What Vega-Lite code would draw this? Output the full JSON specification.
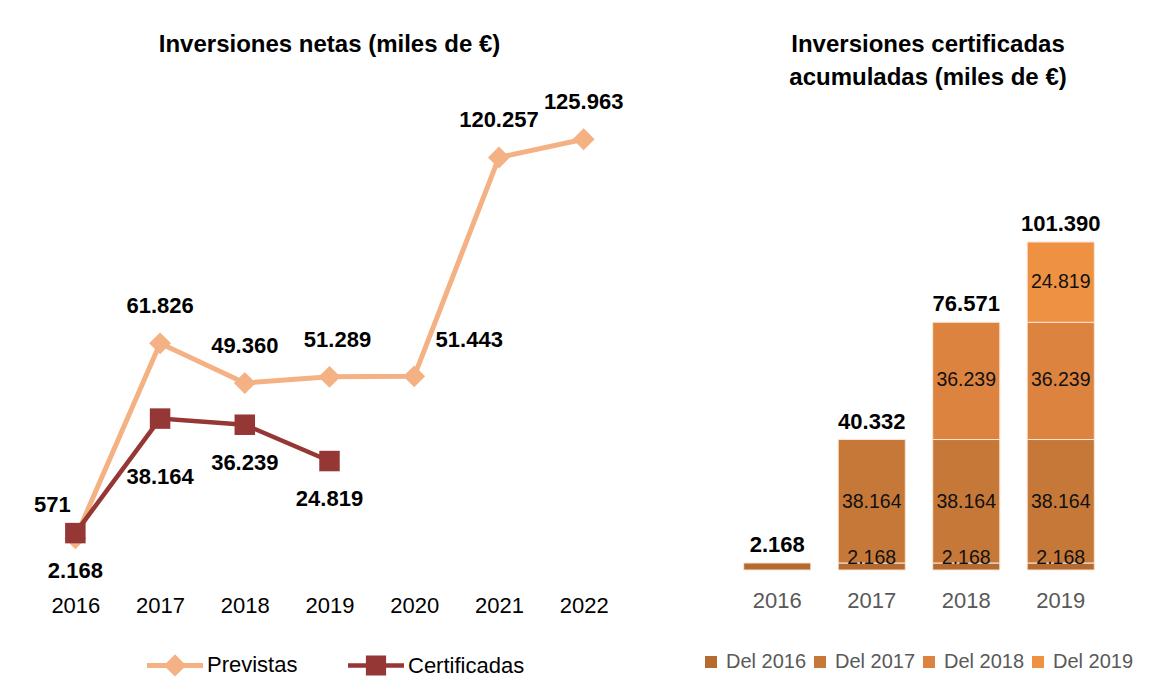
{
  "$schema": "https://vega.github.io/schema/vega-lite/v6.json",
  "padding": {"left": 33, "top": 33, "right": 5, "bottom": 5},
  "background": "white",
  "spacing": 75,
  "config": {
    "locale": {"number": {"decimal": ",", "thousands": ".", "grouping": [3], "currency": ["", " €"]}},
    "font": "Liberation Sans",
    "view": {"stroke": null},
    "title": {"font": "Liberation Sans", "fontSize": 24, "fontWeight": "bold", "color": "#000000"},
    "text": {"font": "Liberation Sans"}
  },
  "datasets": {
    "netas": [
      {"year": 2016, "series": "Previstas", "value": 571},
      {"year": 2017, "series": "Previstas", "value": 61826},
      {"year": 2018, "series": "Previstas", "value": 49360},
      {"year": 2019, "series": "Previstas", "value": 51289},
      {"year": 2020, "series": "Previstas", "value": 51443},
      {"year": 2021, "series": "Previstas", "value": 120257},
      {"year": 2022, "series": "Previstas", "value": 125963},
      {"year": 2016, "series": "Certificadas", "value": 2168},
      {"year": 2017, "series": "Certificadas", "value": 38164},
      {"year": 2018, "series": "Certificadas", "value": 36239},
      {"year": 2019, "series": "Certificadas", "value": 24819}
    ],
    "acum": [
      {"year": 2016, "segment": "Del 2016", "value": 2168},
      {"year": 2017, "segment": "Del 2016", "value": 2168},
      {"year": 2017, "segment": "Del 2017", "value": 38164},
      {"year": 2018, "segment": "Del 2016", "value": 2168},
      {"year": 2018, "segment": "Del 2017", "value": 38164},
      {"year": 2018, "segment": "Del 2018", "value": 36239},
      {"year": 2019, "segment": "Del 2016", "value": 2168},
      {"year": 2019, "segment": "Del 2017", "value": 38164},
      {"year": 2019, "segment": "Del 2018", "value": 36239},
      {"year": 2019, "segment": "Del 2019", "value": 24819}
    ]
  },
  "hconcat": [
    {
      "width": 593,
      "height": 440,
      "title": {"text": "Inversiones netas (miles de €)", "offset": 34},
      "data": {"name": "netas"},
      "encoding": {
        "x": {"field": "year", "type": "ordinal", "scale": {"type": "point", "padding": 0.5},
          "axis": {"title": null, "domain": false, "ticks": false, "labelFontSize": 22, "labelColor": "#000000", "labelPadding": 55, "labelAngle": 0, "labelFont": "Liberation Sans"}},
        "y": {"field": "value", "type": "quantitative", "scale": {"domain": [0, 138320], "nice": false, "zero": true}, "axis": null}
      },
      "layer": [
        {
          "transform": [{"filter": "datum.series == 'Previstas'"}],
          "mark": {"type": "line", "strokeWidth": 5},
          "encoding": {
            "color": {"field": "series", "type": "nominal",
              "scale": {"domain": ["Previstas", "Certificadas"], "range": ["#F4B183", "#953735"]},
              "legend": {
                "orient": "none", "legendX": 114, "legendY": 537, "direction": "horizontal", "title": null,
                "labelFontSize": 22, "labelFont": "Liberation Sans", "labelColor": "#000000",
                "symbolSize": 3136, "columnPadding": 50, "labelOffset": 4,
                "encode": {"symbols": {"update": {
                  "shape": {"signal": "datum.value == 'Previstas' ? 'M-1,-0.09L1,-0.09L1,0.09L-1,0.09Z M0,-0.4L0.4,0L0,0.4L-0.4,0Z' : 'M-1,-0.08L1,-0.08L1,0.08L-1,0.08Z M-0.36,-0.36L0.36,-0.36L0.36,0.36L-0.36,0.36Z'"},
                  "fill": {"signal": "datum.value == 'Previstas' ? '#F4B183' : '#953735'"},
                  "fillOpacity": {"value": 1},
                  "strokeWidth": {"value": 0}
                }}}
              }
            }
          }
        },
        {
          "transform": [{"filter": "datum.series == 'Previstas'"}],
          "mark": {"type": "point", "shape": "diamond", "filled": true, "size": 480, "opacity": 1},
          "encoding": {"color": {"field": "series", "type": "nominal"}}
        },
        {
          "transform": [{"filter": "datum.series == 'Certificadas'"}],
          "mark": {"type": "line", "strokeWidth": 4.5},
          "encoding": {"color": {"field": "series", "type": "nominal"}}
        },
        {
          "transform": [{"filter": "datum.series == 'Certificadas'"}],
          "mark": {"type": "point", "shape": "square", "filled": true, "size": 420, "opacity": 1},
          "encoding": {"color": {"field": "series", "type": "nominal"}}
        },
        {
          "transform": [{"filter": "datum.series == 'Previstas' && (datum.year == 2017 || datum.year == 2018 || datum.year == 2021 || datum.year == 2022)"}],
          "mark": {"type": "text", "fontSize": 22, "fontWeight": "bold", "dy": -37, "color": "#000000"},
          "encoding": {"text": {"field": "value", "type": "quantitative", "format": ",.0f"}}
        },
        {
          "transform": [{"filter": "datum.series == 'Previstas' && datum.year == 2019"}],
          "mark": {"type": "text", "fontSize": 22, "fontWeight": "bold", "dy": -37, "dx": 8, "color": "#000000"},
          "encoding": {"text": {"field": "value", "type": "quantitative", "format": ",.0f"}}
        },
        {
          "transform": [{"filter": "datum.series == 'Previstas' && datum.year == 2016"}],
          "mark": {"type": "text", "fontSize": 22, "fontWeight": "bold", "dy": -33, "dx": -23, "color": "#000000"},
          "encoding": {"text": {"field": "value", "type": "quantitative", "format": ",.0f"}}
        },
        {
          "transform": [{"filter": "datum.series == 'Previstas' && datum.year == 2020"}],
          "mark": {"type": "text", "fontSize": 22, "fontWeight": "bold", "dy": -36, "dx": 55, "color": "#000000"},
          "encoding": {"text": {"field": "value", "type": "quantitative", "format": ",.0f"}}
        },
        {
          "transform": [{"filter": "datum.series == 'Certificadas' && datum.year != 2017"}],
          "mark": {"type": "text", "fontSize": 22, "fontWeight": "bold", "dy": 38, "color": "#000000"},
          "encoding": {"text": {"field": "value", "type": "quantitative", "format": ",.0f"}}
        },
        {
          "transform": [{"filter": "datum.series == 'Certificadas' && datum.year == 2017"}],
          "mark": {"type": "text", "fontSize": 22, "fontWeight": "bold", "dy": 58, "color": "#000000"},
          "encoding": {"text": {"field": "value", "type": "quantitative", "format": ",.0f"}}
        }
      ]
    },
    {
      "width": 378,
      "height": 470,
      "title": {"text": ["Inversiones certificadas", "acumuladas (miles de €)"], "offset": 10, "dx": 9, "lineHeight": 33},
      "data": {"name": "acum"},
      "encoding": {
        "x": {"field": "year", "type": "ordinal", "scale": {"paddingInner": 0.29},
          "axis": {"title": null, "domain": false, "ticks": false, "labelFontSize": 22, "labelColor": "#595959", "labelPadding": 20, "labelAngle": 0, "labelFont": "Liberation Sans"}}
      },
      "layer": [
        {
          "mark": {"type": "bar", "stroke": "#FBE5D6", "strokeWidth": 1},
          "encoding": {
            "y": {"field": "value", "type": "quantitative", "stack": "zero", "scale": {"domain": [0, 145286], "nice": false}, "axis": null},
            "color": {"field": "segment", "type": "nominal",
              "scale": {"domain": ["Del 2016", "Del 2017", "Del 2018", "Del 2019"], "range": ["#B56A30", "#C67838", "#DC8340", "#EE9143"]},
              "legend": {"orient": "none", "legendX": -29, "legendY": 552, "direction": "horizontal", "title": null,
                "labelFontSize": 20, "labelFont": "Liberation Sans", "labelColor": "#595959",
                "symbolType": "square", "symbolSize": 144, "symbolStrokeWidth": 0, "labelOffset": 5, "columnPadding": 3}},
            "order": {"field": "segment", "sort": "ascending"}
          }
        },
        {
          "transform": [
            {"stack": "value", "groupby": ["year"], "sort": [{"field": "segment", "order": "ascending"}], "as": ["v0", "v1"]},
            {"filter": "datum.segment == 'Del 2016' && datum.year != 2016"}
          ],
          "mark": {"type": "text", "fontSize": 19.5, "color": "#111111", "dy": -5},
          "encoding": {
            "y": {"field": "v1", "type": "quantitative"},
            "text": {"field": "value", "type": "quantitative", "format": ",.0f"}
          }
        },
        {
          "transform": [
            {"stack": "value", "groupby": ["year"], "sort": [{"field": "segment", "order": "ascending"}], "as": ["v0", "v1"]},
            {"filter": "datum.segment == 'Del 2017'"}
          ],
          "mark": {"type": "text", "fontSize": 19.5, "color": "#111111", "dy": 62},
          "encoding": {
            "y": {"field": "v1", "type": "quantitative"},
            "text": {"field": "value", "type": "quantitative", "format": ",.0f"}
          }
        },
        {
          "transform": [
            {"stack": "value", "groupby": ["year"], "sort": [{"field": "segment", "order": "ascending"}], "as": ["v0", "v1"]},
            {"filter": "datum.segment == 'Del 2018'"}
          ],
          "mark": {"type": "text", "fontSize": 19.5, "color": "#111111", "dy": 58},
          "encoding": {
            "y": {"field": "v1", "type": "quantitative"},
            "text": {"field": "value", "type": "quantitative", "format": ",.0f"}
          }
        },
        {
          "transform": [
            {"stack": "value", "groupby": ["year"], "sort": [{"field": "segment", "order": "ascending"}], "as": ["v0", "v1"]},
            {"filter": "datum.segment == 'Del 2019'"}
          ],
          "mark": {"type": "text", "fontSize": 19.5, "color": "#111111", "dy": 40},
          "encoding": {
            "y": {"field": "v1", "type": "quantitative"},
            "text": {"field": "value", "type": "quantitative", "format": ",.0f"}
          }
        },
        {
          "mark": {"type": "text", "fontSize": 22, "fontWeight": "bold", "baseline": "bottom", "dy": -6, "color": "#000000"},
          "encoding": {
            "y": {"aggregate": "sum", "field": "value", "type": "quantitative"},
            "text": {"aggregate": "sum", "field": "value", "type": "quantitative", "format": ",.0f"}
          }
        }
      ]
    }
  ],
  "resolve": {
    "scale": {"color": "independent", "x": "independent", "y": "independent"},
    "legend": {"color": "independent"}
  }
}
